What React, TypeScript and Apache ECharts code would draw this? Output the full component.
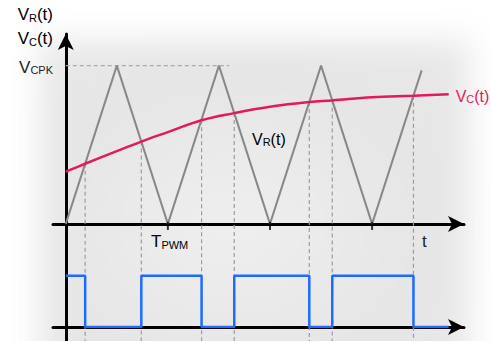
import React, { useEffect, useRef } from 'react';
import * as echarts from 'echarts';

// ---- data (time in units of half a PWM period, voltage normalised to V_CPK) ----
const TRI_T = [0, 1, 2, 3, 4, 5, 6, 6.97];
const TRI_V = [0, 1, 0, 1, 0, 1, 0, 0.97];

const VC_T = [0, 0.38, 1.0, 1.48, 2.0, 2.66, 3.3, 4.0, 4.77, 5.22, 6.0, 6.81, 7.5];
const VC_V = [0.33, 0.38, 0.46, 0.52, 0.58, 0.655, 0.7, 0.74, 0.77, 0.78, 0.8, 0.81, 0.82];

const CROSS_T = [0.38, 1.48, 2.66, 3.3, 4.77, 5.22, 6.81];
const CROSS_V = [0.38, 0.52, 0.655, 0.7, 0.77, 0.78, 0.81];

const PWM_T = [0, 0.38, 1.48, 2.66, 3.3, 4.77, 5.22, 6.81, 7.5];
const PWM_V = [1, 0, 1, 0, 1, 0, 1, 0, 0];

const VCPK = 1;
const VCPK_LINE_T = [0, 3.2];
const TICKS_T = [2, 4, 6];

const XMIN = -0.25;
const XMAX = 7.8;
const YMIN = -0.74;
const YMAX = 1.2;

const FONT = '"Liberation Sans", Arial, sans-serif';
const TXT = '#222';
const RED = '#e5185b';
const BLUE = '#1f6bff';
const GRAY = '#888888';
const DASH = '#9c9c9c';

const rich = (color: string, size = 17) => ({
  m: { fontSize: size, fontFamily: FONT, color, lineHeight: 20, verticalAlign: 'bottom' as const },
  s: { fontSize: Math.round(size * 0.66), fontFamily: FONT, color, lineHeight: 10, verticalAlign: 'bottom' as const },
});

export default function App() {
  const ref = useRef<HTMLDivElement>(null);
  useEffect(() => {
    document.body.style.margin = '0';
    const chart = echarts.init(ref.current!, null, { renderer: 'svg' });
    const zip = (a: number[], b: number[]) => a.map((x, i) => [x, b[i]]);

    const dashSeries = CROSS_T.map((t, i) => ({
      type: 'line',
      xAxisIndex: 0,
      yAxisIndex: 0,
      data: [[t, CROSS_V[i]], [t, YMIN]],
      symbol: 'none',
      silent: true,
      z: 1,
      lineStyle: { color: DASH, width: 1.2, type: [4, 3] },
    }));

    const axisLine = { show: true, onZero: true, symbol: ['none', 'arrow'], symbolSize: [12, 16], lineStyle: { color: '#000', width: 3 } };

    const option: any = {
      animation: false,
      grid: [
        { left: 53, right: 27, top: 34, bottom: 0, containLabel: false, outerBoundsMode: 'none' },
        { left: 53, right: 27, top: 260, bottom: 14, containLabel: false, outerBoundsMode: 'none' },
      ],
      xAxis: [
        {
          type: 'value', gridIndex: 0, min: XMIN, max: XMAX,
          axisLine, axisTick: { show: false }, axisLabel: { show: false }, splitLine: { show: false },
        },
        {
          type: 'value', gridIndex: 1, min: XMIN, max: XMAX,
          axisLine, axisTick: { show: false }, axisLabel: { show: false }, splitLine: { show: false },
        },
      ],
      yAxis: [
        {
          type: 'value', gridIndex: 0, min: YMIN, max: YMAX,
          axisLine, axisTick: { show: false },
          axisLabel: {
            show: true, customValues: [VCPK], margin: 0,
            formatter: () => '{m|V}{s|CPK}', rich: rich(TXT),
          },
          splitLine: { show: false },
        },
        {
          type: 'value', gridIndex: 1, min: 0, max: 1.31, show: false,
        },
      ],
      graphic: [
        {
          type: 'text', x: 53, y: 13, silent: true,
          style: { text: '{m|V}{s|R}{m|(t)}', rich: rich(TXT), align: 'right', verticalAlign: 'middle' },
        },
        {
          type: 'text', x: 53, y: 37, silent: true,
          style: { text: '{m|V}{s|C}{m|(t)}', rich: rich(TXT), align: 'right', verticalAlign: 'middle' },
        },
        {
          type: 'text', x: 252, y: 137, silent: true,
          style: { text: '{m|V}{s|R}{m|(t)}', rich: rich(TXT, 16), align: 'left', verticalAlign: 'middle' },
        },
        {
          type: 'text', x: 151, y: 240, silent: true,
          style: { text: '{m|T}{s|PWM}', rich: rich(TXT), align: 'left', verticalAlign: 'middle' },
        },
        {
          type: 'text', x: 422, y: 241, silent: true,
          style: { text: 't', font: `17px ${FONT}`, fill: TXT, align: 'left', verticalAlign: 'middle' },
        },
      ],
      series: [
        ...dashSeries,
        {
          type: 'line', xAxisIndex: 0, yAxisIndex: 0, symbol: 'none', silent: true, z: 1,
          data: VCPK_LINE_T.map((t) => [t, VCPK]),
          lineStyle: { color: '#aaaaaa', width: 1.2, type: [4, 3] },
        },
        {
          type: 'scatter', xAxisIndex: 0, yAxisIndex: 0, silent: true, z: 5,
          data: TICKS_T.map((t) => [t, 0]),
          symbol: 'rect', symbolSize: [2, 8], symbolOffset: [0, 2],
          itemStyle: { color: '#000' },
        },
        {
          type: 'line', xAxisIndex: 0, yAxisIndex: 0, symbol: 'none', silent: true, z: 3,
          data: zip(TRI_T, TRI_V),
          lineStyle: { color: GRAY, width: 2 },
        },
        {
          type: 'line', xAxisIndex: 0, yAxisIndex: 0, symbol: 'none', silent: true, z: 4, smooth: 0.4,
          data: zip(VC_T, VC_V),
          lineStyle: { color: RED, width: 2.5 },
          endLabel: { show: true, distance: 7, formatter: () => '{m|V}{s|C}{m|(t)}', rich: rich(RED, 16) },
        },
        {
          type: 'line', xAxisIndex: 1, yAxisIndex: 1, symbol: 'none', silent: true, z: 4, step: 'end',
          data: zip(PWM_T, PWM_V),
          lineStyle: { color: BLUE, width: 2.5 },
        },
      ],
    };
    chart.setOption(option);
    return () => chart.dispose();
  }, []);

  return (
    <div style={{ position: 'relative', width: 491, height: 341, overflow: 'hidden', background: '#fff' }}>
      <div
        style={{
          position: 'absolute', left: 40, top: 40, width: 430, height: 340,
          background: 'radial-gradient(ellipse at 45% 55%, #efefef 0%, #e6e6e6 55%, #e8e8e8 100%)',
          filter: 'blur(16px)',
        }}
      />
      <div ref={ref} style={{ position: 'absolute', left: 0, top: 0, width: 491, height: 341 }} />
    </div>
  );
}
